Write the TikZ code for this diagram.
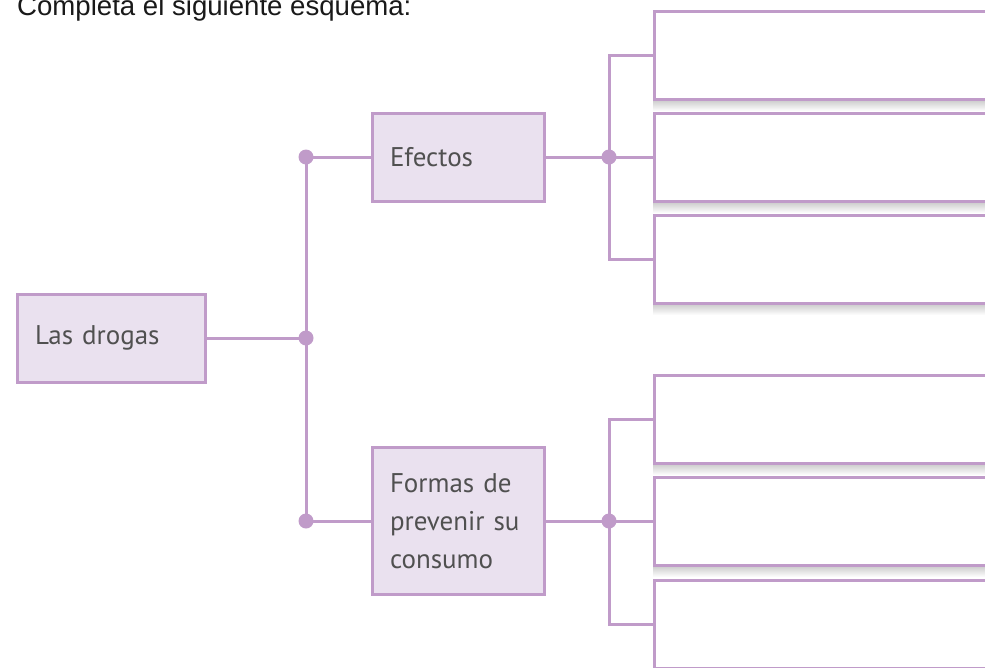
\documentclass[tikz,border=0pt]{standalone}
\usepackage{fontspec}
\setmainfont{Liberation Sans}
\newfontfamily\handfont{PT Sans}
\usepackage{xcolor}
\usetikzlibrary{positioning, calc}

\definecolor{lila}{HTML}{C09BC9}
\definecolor{lilafill}{HTML}{EAE1EF}
\definecolor{txtgray}{HTML}{505050}

\begin{document}
\begin{tikzpicture}[
    x=1pt, y=-1pt,
    tnode/.style={rectangle, draw=lila, fill=lilafill, line width=3pt, align=left, inner xsep=18pt, inner ysep=0pt, text=txtgray, font={\handfont\fontsize{27}{38}\selectfont}},
    rbox/.style={rectangle, draw=lila, fill=white, line width=3pt, minimum width=360pt, minimum height=88pt, anchor=west},
    dot/.style={circle, fill=lila, inner sep=0pt, minimum size=15pt},
    con/.style={draw=lila, line width=3pt}
]
\useasboundingbox (0,0) rectangle (985,667);
\clip (0,0) rectangle (985,667);

\node[anchor=base west, inner sep=0pt, text=black!90, font=\fontsize{27.6}{30}\selectfont] (title) at (17,15) {Completa el siguiente esquema:};

\node[tnode, minimum width=188pt, minimum height=88pt, text width=152pt] (drogas) at (111,338) {Las drogas};
\node[tnode, minimum width=172pt, minimum height=88pt, text width=136pt] (efectos) at (458,157) {Efectos};
\node[tnode, minimum width=172pt, minimum height=147pt, text width=136pt] (formas) at (458,521) {Formas de\\prevenir su\\consumo};

% right boxes
\foreach \n/\y in {e1/55, e2/157, e3/259, f1/419, f2/521, f3/624}{
  \shade[top color=black!22, bottom color=white] ($(653,\y)+(0,44)$) rectangle ($(1000,\y)+(0,56)$);
  \node[rbox] (\n) at (653,\y) {};
}

% joints
\node[dot] (dmid) at (306,338) {};
\node[dot] (dtop) at (306,157) {};
\node[dot] (dbot) at (306,521) {};
\node[dot] (de) at (609,157) {};
\node[dot] (df) at (609,521) {};

\draw[con] (drogas) -- (dmid.center);
\draw[con] (dtop.center) -- (dbot.center);
\draw[con] (dtop.center) -- (efectos);
\draw[con] (dbot.center) -- (formas);

\draw[con] (efectos) -- (de.center);
\draw[con] (e1.west) -| (de.center) |- (e3.west);
\draw[con] (de.center) -- (e2.west);

\draw[con] (formas) -- (df.center);
\draw[con] (f1.west) -| (df.center) |- (f3.west);
\draw[con] (df.center) -- (f2.west);

\end{tikzpicture}
\end{document}
